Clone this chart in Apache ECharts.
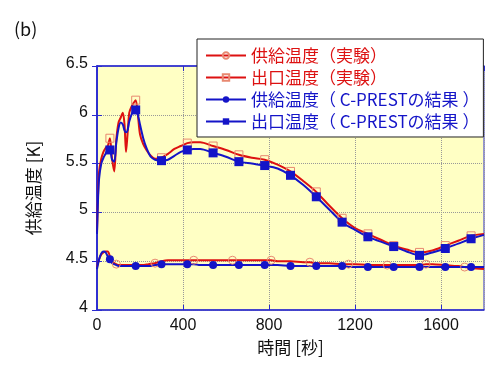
<!DOCTYPE html>
<html><head><meta charset="utf-8">
<script src="https://cdn.jsdelivr.net/npm/echarts@6/dist/echarts.min.js"></script>
<style>html,body{margin:0;padding:0;background:#fff}#c{width:500px;height:369px}</style>
</head><body><div id="c"></div>
<script>
// ---- data ----
const outletTime = [0,5,10,20,30,40,50,60,70,80,90,100,110,120,128,135,142,150,160,170,180,190,200,215,230,250,270,300,330,360,390,420,450,480,540,600,660,720,780,840,900,960,1020,1080,1140,1200,1260,1320,1380,1440,1500,1560,1620,1680,1740,1800];
const outletExp = [4.80,5.20,5.42,5.55,5.62,5.66,5.68,5.76,5.55,5.42,5.75,5.92,5.97,6.02,5.90,5.62,5.80,6.02,6.08,6.12,6.15,6.00,5.80,5.70,5.64,5.58,5.55,5.56,5.60,5.65,5.68,5.71,5.72,5.72,5.68,5.64,5.59,5.56,5.54,5.49,5.42,5.32,5.21,5.07,4.94,4.84,4.78,4.72,4.66,4.62,4.59,4.61,4.66,4.71,4.76,4.78];
const outletCalc = [4.78,5.15,5.35,5.50,5.56,5.60,5.64,5.64,5.54,5.52,5.72,5.86,5.92,5.90,5.84,5.82,5.84,5.93,6.00,6.04,6.05,6.00,5.90,5.76,5.66,5.57,5.54,5.53,5.54,5.58,5.62,5.64,5.65,5.65,5.61,5.57,5.52,5.50,5.48,5.45,5.38,5.28,5.16,5.03,4.90,4.82,4.75,4.70,4.65,4.60,4.56,4.59,4.63,4.68,4.73,4.77];
const supplyTime = [0,10,20,30,40,50,60,70,80,90,100,120,150,180,210,240,270,300,330,360,420,450,480,540,600,630,660,720,780,810,840,900,960,990,1020,1080,1140,1170,1200,1260,1320,1350,1380,1440,1500,1530,1560,1620,1680,1710,1740,1800];
const supplyExp = [4.44,4.52,4.57,4.59,4.60,4.60,4.55,4.50,4.48,4.47,4.46,4.46,4.46,4.46,4.46,4.47,4.48,4.50,4.51,4.51,4.51,4.51,4.51,4.51,4.51,4.51,4.51,4.51,4.51,4.51,4.50,4.50,4.49,4.49,4.48,4.48,4.47,4.47,4.47,4.46,4.46,4.46,4.46,4.46,4.46,4.47,4.47,4.46,4.45,4.44,4.43,4.42];
const supplyCalc = [4.42,4.52,4.58,4.60,4.59,4.55,4.52,4.48,4.47,4.46,4.45,4.45,4.45,4.45,4.45,4.45,4.46,4.47,4.47,4.47,4.47,4.47,4.46,4.46,4.46,4.46,4.46,4.46,4.46,4.46,4.46,4.45,4.45,4.45,4.45,4.45,4.45,4.44,4.44,4.44,4.44,4.44,4.44,4.44,4.44,4.44,4.44,4.44,4.44,4.44,4.44,4.44];
const calcMarkerTimes = [60,180,300,420,540,660,780,900,1020,1140,1260,1380,1500,1620,1740];
const supplyExpMarkerTimes = [90,270,450,630,810,990,1170,1350,1530,1710];
const xTicks = [0,400,800,1200,1600];
const yTicks = [4,4.5,5,5.5,6,6.5];
const seriesNames = ['供給温度（実験）','出口温度（実験）','供給温度（ C-PRESTの結果 ）','出口温度（ C-PRESTの結果 ）'];

function build(times, vals, marks){
  return times.map((t,i)=>{
    const o = {value:[t, vals[i]]};
    if (!marks.includes(t)) o.symbol = 'none';
    return o;
  });
}
const RED = '#dd1111', BLUE = '#1414c8', SALMON = '#e88870';
const chart = echarts.init(document.getElementById('c'), null, {renderer:'canvas'});
const axisBlue = '#2a2ad0';
const font = '"Liberation Sans", Arial, sans-serif';
const cjk = '"Noto Sans CJK JP", sans-serif';
chart.setOption({
  animation:false,
  graphic:[{type:'text', left:14, top:20, style:{text:'(b)', font:'18px '+cjk, fill:'#111'}}],
  grid:{left:97, right:16, top:66, bottom:59, show:true, backgroundColor:'#ffffc4', borderColor:axisBlue, borderWidth:1},
  legend:{
    orient:'vertical', left:197, top:39,
    backgroundColor:'#fff', borderColor:'#222', borderWidth:1,
    padding:[8,4,7,8], itemGap:5, itemWidth:40, itemHeight:8,
    textStyle:{fontFamily:cjk, fontSize:17},
    data:[
      {name:seriesNames[0], textStyle:{color:RED}},
      {name:seriesNames[1], textStyle:{color:RED}},
      {name:seriesNames[2], textStyle:{color:BLUE}},
      {name:seriesNames[3], textStyle:{color:BLUE}}
    ]
  },
  xAxis:[{
    type:'value', min:0, max:1800, interval:400,
    name:'時間 [秒]', nameLocation:'middle', nameGap:29,
    nameTextStyle:{fontFamily:cjk, fontSize:17, color:'#111'},
    axisLine:{lineStyle:{color:axisBlue, width:1.5}},
    axisTick:{inside:true, length:5, lineStyle:{color:axisBlue}},
    axisLabel:{showMaxLabel:false, fontFamily:font, fontSize:16, color:'#111', margin:8,
      formatter:v=>xTicks.includes(v)?String(v):''},
    splitLine:{show:true, lineStyle:{color:'#999', type:'dotted', width:1}}
  },{
    type:'value', min:0, max:1800, interval:400, position:'top',
    axisLine:{show:true, lineStyle:{color:axisBlue, width:1.5}},
    axisTick:{show:true, inside:true, length:5, lineStyle:{color:axisBlue}},
    axisLabel:{show:false}, splitLine:{show:false}
  }],
  yAxis:[{
    type:'value', min:4, max:6.5, interval:0.5,
    name:'供給温度 [K]', nameLocation:'middle', nameGap:55, nameRotate:90,
    nameTextStyle:{fontFamily:cjk, fontSize:17, color:'#111'},
    axisLine:{show:true, lineStyle:{color:axisBlue, width:1.5}},
    axisTick:{show:true, inside:true, length:5, lineStyle:{color:axisBlue}},
    axisLabel:{color:'#111', margin:9,
      formatter:v=>yTicks.includes(v)?'{a|'+v+'}':'',
      rich:{a:{fontFamily:font, fontSize:16, color:'#111', padding:[0,0,5,0]}}},
    splitLine:{show:true, lineStyle:{color:'#999', type:'dotted', width:1}}
  },{
    type:'value', min:4, max:6.5, interval:0.5, position:'right',
    axisLine:{show:true, lineStyle:{color:axisBlue, width:1.5}},
    axisTick:{show:true, inside:true, length:5, lineStyle:{color:axisBlue}},
    axisLabel:{show:false}, splitLine:{show:false}
  }],
  series:[
    {name:seriesNames[0], type:'line', smooth:0.3, data:build(supplyTime, supplyExp, supplyExpMarkerTimes),
     symbol:'circle', symbolSize:8, showAllSymbol:true,
     lineStyle:{color:RED, width:2}, itemStyle:{color:'rgba(0,0,0,0)', borderColor:SALMON, borderWidth:1}},
    {name:seriesNames[1], type:'line', smooth:0.3, data:build(outletTime, outletExp, calcMarkerTimes),
     symbol:'rect', symbolSize:8, showAllSymbol:true,
     lineStyle:{color:RED, width:2}, itemStyle:{color:'rgba(0,0,0,0)', borderColor:SALMON, borderWidth:1}},
    {name:seriesNames[2], type:'line', smooth:0.3, data:build(supplyTime, supplyCalc, calcMarkerTimes),
     symbol:'circle', symbolSize:8, showAllSymbol:true,
     lineStyle:{color:BLUE, width:2}, itemStyle:{color:BLUE}},
    {name:seriesNames[3], type:'line', smooth:0.3, data:build(outletTime, outletCalc, calcMarkerTimes),
     symbol:'rect', symbolSize:9, showAllSymbol:true,
     lineStyle:{color:BLUE, width:2}, itemStyle:{color:BLUE}}
  ]
});
</script></body></html>
